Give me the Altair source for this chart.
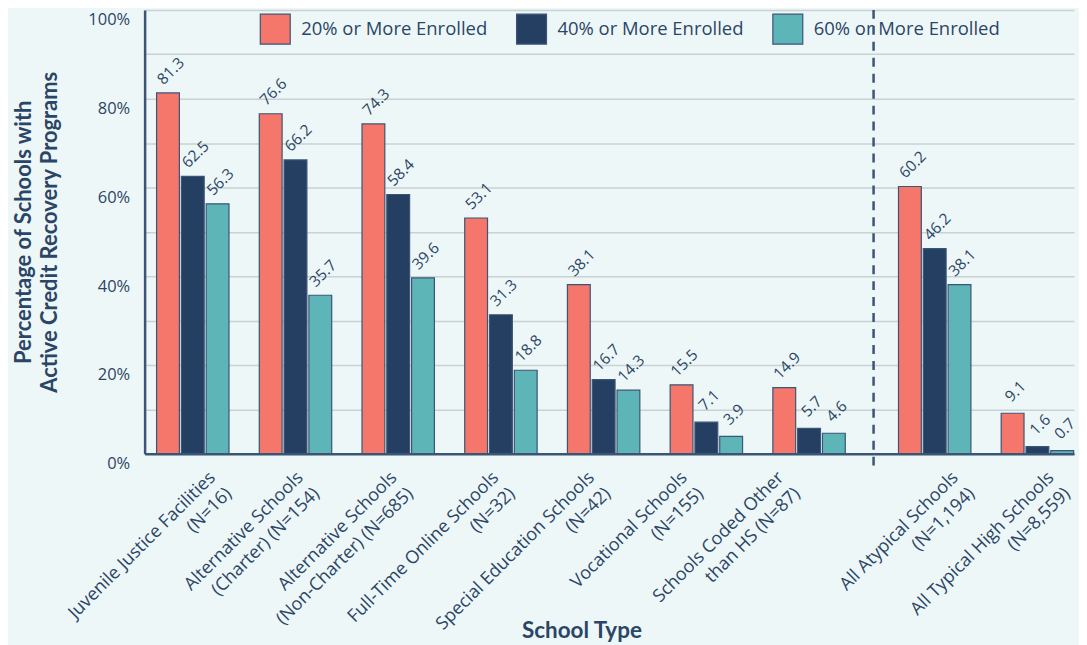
import json
import altair as alt
import pandas as pd

categories = [
    "Juvenile Justice Facilities\n(N=16)",
    "Alternative Schools\n(Charter) (N=154)",
    "Alternative Schools\n(Non-Charter) (N=685)",
    "Full-Time Online Schools\n(N=32)",
    "Special Education Schools\n(N=42)",
    "Vocational Schools\n(N=155)",
    "Schools Coded Other\nthan HS (N=87)",
    "All Atypical Schools\n(N=1,194)",
    "All Typical High Schools\n(N=8,559)",
]
series = ["20% or More Enrolled", "40% or More Enrolled", "60% or More Enrolled"]
v20 = [81.3, 76.6, 74.3, 53.1, 38.1, 15.5, 14.9, 60.2, 9.1]
v40 = [62.5, 66.2, 58.4, 31.3, 16.7, 7.1, 5.7, 46.2, 1.6]
v60 = [56.3, 35.7, 39.6, 18.8, 14.3, 3.9, 4.6, 38.1, 0.7]
y_ticks = list(range(0, 101, 10))

rows = []
for i, c in enumerate(categories):
    for s, vals in zip(series, [v20, v40, v60]):
        rows.append({"type": c, "series": s, "value": vals[i]})
df = pd.DataFrame(rows)

COLORS = ["#F5766B", "#253F62", "#5EB5B7"]
NAVY = "#2B4566"
STROKE = "#3B5575"
FONT = "Open Sans"
TFONT = "Lato"
H = 445

# horizontal nudges of the rotated tick labels (the source spaces them slightly tighter than the bars)
label_nudge = [20, 5, -4, -5, -12, -22, -28, 21, 14]

legend = alt.Legend(
    title=None, orient="none", legendX=115, legendY=3, direction="horizontal",
    symbolType="square", symbolSize=900, symbolStrokeColor=STROKE, symbolStrokeWidth=1.2,
    symbolOpacity=1, labelFont=FONT, labelFontSize=18.5, labelColor=NAVY, labelOffset=10,
    columnPadding=26, padding=0, labelLimit=400,
)


def nudge_condition(cats):
    conds = []
    for c in cats:
        conds.append({"test": "datum.value === " + json.dumps(c),
                      "value": label_nudge[categories.index(c)]})
    return {"condition": conds, "value": 0}


def panel(cats, width, align, po, first):
    data = df[df["type"].isin(cats)]
    xaxis = alt.Axis(
        labelAngle=-45, labelAlign="right", labelBaseline="middle",
        labelOffset=nudge_condition(cats),
        labelPadding=21, labelLineHeight=23, labelFont=FONT, labelFontSize=18,
        labelColor=NAVY, labelLimit=400, labelOverlap=False, ticks=False,
        domainColor=STROKE, domainWidth=2.5,
        labelExpr="split(datum.label, '\\n')",
        title="School Type" if first else None,
        titleFont=TFONT, titleFontSize=22.5, titleFontWeight="bold", titleColor=NAVY,
        titleX=438, titleY=177, titleBaseline="middle",
    )
    if first:
        yaxis = alt.Axis(
            values=y_ticks, labelExpr="datum.value % 20 === 0 ? datum.value + '%' : ''",
            ticks=False, labelPadding=15, labelBaseline="top", labelOffset=2,
            labelFont=FONT, labelFontSize=16.5,
            labelColor=NAVY, domainColor=STROKE, domainWidth=2.5,
            gridColor="#C9D2D2", gridWidth=1.5,
            title=["Percentage of Schools with", "Active Credit Recovery Programs"],
            titleFont=TFONT, titleFontSize=22, titleFontWeight="bold", titleColor=NAVY,
            titleLineHeight=26, titlePadding=26,
        )
    else:
        yaxis = alt.Axis(
            values=y_ticks, labels=False, ticks=False, domain=False, title=None,
            gridColor="#C9D2D2", gridWidth=1.5,
        )
    x = alt.X("type:N", sort=cats,
              scale=alt.Scale(paddingInner=0.295, paddingOuter=po, align=align), axis=xaxis)
    y = alt.Y("value:Q", scale=alt.Scale(domain=[0, 100], nice=False), axis=yaxis)
    xo = alt.XOffset("series:N", sort=series, scale=alt.Scale(paddingInner=0.08))
    base = alt.Chart(data)
    bars = base.mark_bar(stroke=STROKE, strokeWidth=1.2).encode(
        x=x, y=y, xOffset=xo,
        color=alt.Color("series:N", sort=series,
                        scale=alt.Scale(domain=series, range=COLORS), legend=legend),
    )
    text = base.mark_text(
        angle=315, align="center", baseline="middle", radius=19, dx=4,
        font=FONT, fontSize=15.5, color=NAVY,
    ).encode(x=x, y=y, xOffset=xo, text=alt.Text("value:Q", format=".1f"))
    layers = [bars, text]
    if not first:
        rule = alt.Chart(pd.DataFrame({"d": [0]})).mark_rule(
            strokeDash=[9, 7], strokeWidth=2.5, color=STROKE
        ).encode(x=alt.value(0), y=alt.value(0), y2=alt.value(H + 12))
        layers.append(rule)
    return alt.layer(*layers).properties(width=width, height=H)


left = panel(categories[:7], 731, 0.297, 0.196, True)
right = panel(categories[7:], 201, 0.984, 0.1233, False)

chart = alt.hconcat(
    left, right, spacing=0, bounds="flush",
    padding={"left": 5, "top": -1, "right": 0, "bottom": 0},
).configure(background="#EEF7F8").configure_view(stroke=None)

chart.save("out.html", embed_options={"renderer": "svg", "actions": False})
